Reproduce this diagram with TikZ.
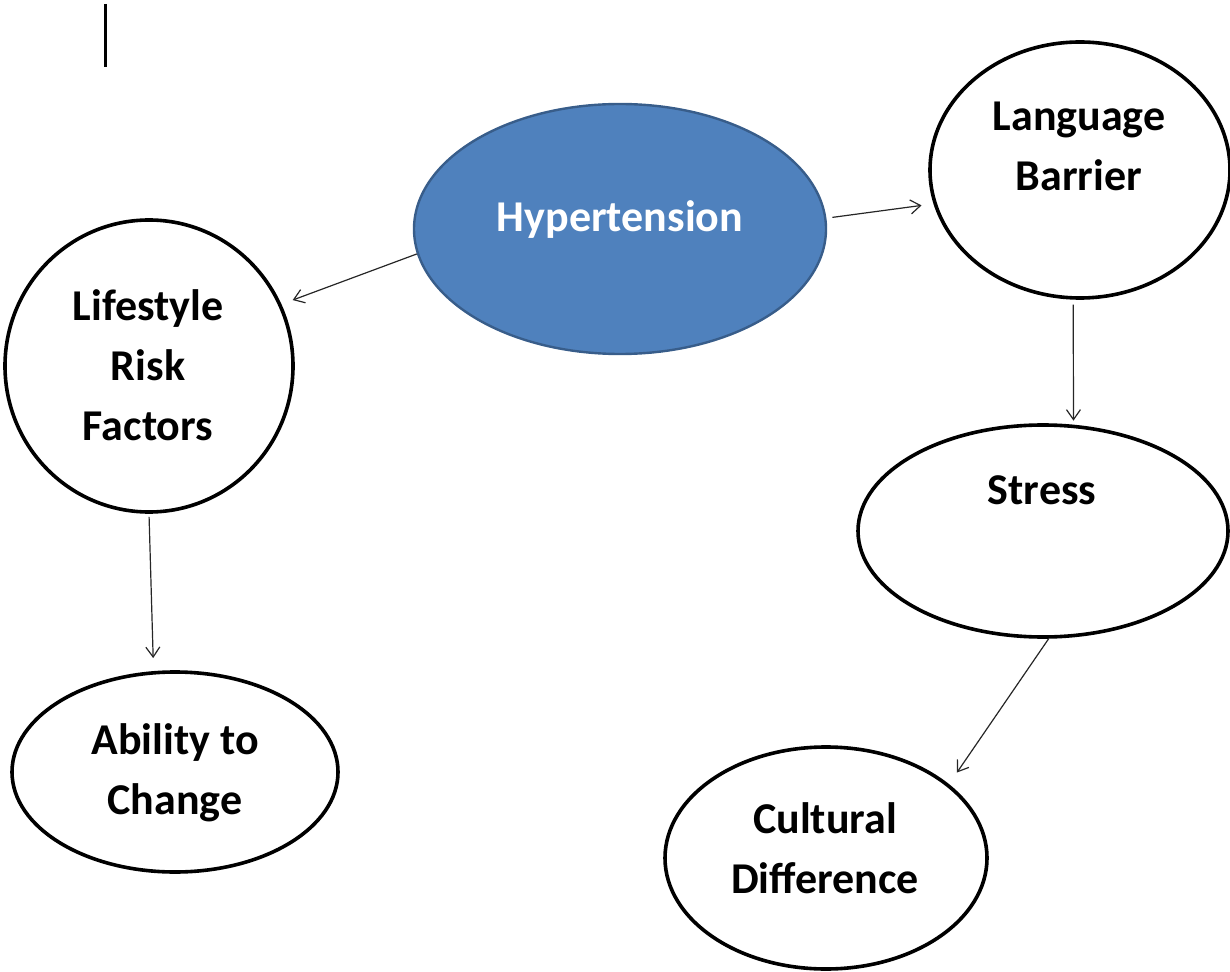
\documentclass[tikz,border=0pt]{standalone}
\usepackage{fontspec}
\setmainfont{Carlito}
\usetikzlibrary{shapes.geometric,arrows.meta}

\begin{document}
\begin{tikzpicture}[x=0.5pt,y=-0.5pt,
    bubble/.style={draw=black,line width=1.8pt,ellipse,inner sep=0pt},
    lbl/.style={font=\fontsize{22}{30}\selectfont\bfseries,align=center,inner sep=0pt},
    link/.style={-{Straight Barb[length=5pt,width=7pt]},line width=0.6pt,draw=black!85}]
    \useasboundingbox(0,0)rectangle(1230,972);
    \definecolor{hypfill}{HTML}{4F81BD}
    \definecolor{hypline}{HTML}{385D8A}
    \draw[line width=1.5pt](105,4)--(105,67);
    % the bubbles
    \node[ellipse,fill=hypfill,draw=hypline,line width=1.2pt,inner sep=0pt,minimum width=206pt,minimum height=125pt](hyp)at(620,229){};
    \node[bubble,minimum width=150pt,minimum height=128pt](lang)at(1080,170){};
    \node[bubble,minimum width=144pt,minimum height=146pt](life)at(149,366){};
    \node[bubble,minimum width=185pt,minimum height=106pt](stress)at(1043,531){};
    \node[bubble,minimum width=163pt,minimum height=100pt](abil)at(175,772){};
    \node[bubble,minimum width=161pt,minimum height=111pt](cult)at(826,858){};
    % the texts
    \node[lbl,text=white,anchor=base](hyptxt)at(620,232){Hypertension};
    \node[lbl](langtxt)at(1079,146){Language\\Barrier};
    \node[lbl](lifetxt)at(148,365){Lifestyle\\Risk\\Factors};
    \node[lbl,anchor=base](stresstxt)at(1042,504){Stress};
    \node[lbl](abiltxt)at(175,773){Ability to\\Change};
    \node[lbl](culttxt)at(825,848){Cultural\\Difference};
    % the arrows
    \draw[link,shorten >=6pt](hyp.187)--(life.25);
    \draw[link,shorten <=3pt,shorten >=6pt](hyp.3)--(lang.193);
    \draw[link,shorten <=2.5pt,shorten >=2pt](lang.267)--(stress.74);
    \draw[link,shorten <=1.5pt,shorten >=6.5pt](life.270)--(abil.102.5);
    \draw[link,shorten >=7pt](stress.273)--(cult.31);
\end{tikzpicture}
\end{document}
